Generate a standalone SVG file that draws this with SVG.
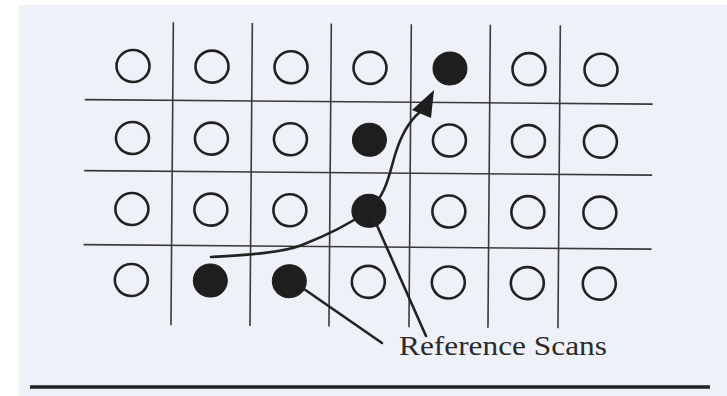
<svg xmlns="http://www.w3.org/2000/svg" width="727" height="396" viewBox="0 0 727 396">
<style>
.grid{stroke:#3a3a3a;stroke-width:1.6;fill:none}
.o{fill:none;stroke:#222;stroke-width:2.6}
.f{fill:#1e1e1e;stroke:#1e1e1e;stroke-width:1}
.c{fill:none;stroke:#222;stroke-width:2.6;stroke-linecap:round}
.ah{fill:#1e1e1e}
.lbl{font-family:"Liberation Serif","Times New Roman",serif;font-size:28px;fill:#2a2a2a}
</style>
<rect width="727" height="396" fill="#ffffff"/>
<rect x="19" y="5" width="708" height="391" fill="#eff1f8"/>
<g transform="rotate(0.45 133 66)">
<g id="grid" class="grid">
<line x1="85" y1="100" x2="653" y2="100"/>
<line x1="85" y1="171" x2="653" y2="171"/>
<line x1="85" y1="245" x2="653" y2="245"/>
<line x1="173" y1="22" x2="173" y2="325"/>
<line x1="252" y1="22" x2="252" y2="325"/>
<line x1="331" y1="22" x2="331" y2="325"/>
<line x1="411" y1="22" x2="411" y2="325"/>
<line x1="490" y1="22" x2="490" y2="325"/>
<line x1="560" y1="22" x2="560" y2="325"/>
</g>
<g id="r1c1"><ellipse class="o" cx="133" cy="66" rx="16.5" ry="16"/></g>
<g id="r1c2"><ellipse class="o" cx="212" cy="66" rx="16.5" ry="16"/></g>
<g id="r1c3"><ellipse class="o" cx="291" cy="66" rx="16.5" ry="16"/></g>
<g id="r1c4"><ellipse class="o" cx="370" cy="66" rx="16.5" ry="16"/></g>
<g id="r1c5"><ellipse class="f" cx="450" cy="66" rx="17" ry="16.5"/></g>
<g id="r1c6"><ellipse class="o" cx="529" cy="66" rx="16.5" ry="16"/></g>
<g id="r1c7"><ellipse class="o" cx="601" cy="66" rx="16.5" ry="16"/></g>
<g id="r2c1"><ellipse class="o" cx="133" cy="138" rx="16.5" ry="16"/></g>
<g id="r2c2"><ellipse class="o" cx="212" cy="138" rx="16.5" ry="16"/></g>
<g id="r2c3"><ellipse class="o" cx="291" cy="138" rx="16.5" ry="16"/></g>
<g id="r2c4"><ellipse class="f" cx="370" cy="138" rx="17" ry="16.5"/></g>
<g id="r2c5"><ellipse class="o" cx="450" cy="138" rx="16.5" ry="16"/></g>
<g id="r2c6"><ellipse class="o" cx="529" cy="138" rx="16.5" ry="16"/></g>
<g id="r2c7"><ellipse class="o" cx="601" cy="138" rx="16.5" ry="16"/></g>
<g id="r3c1"><ellipse class="o" cx="133" cy="209" rx="16.5" ry="16"/></g>
<g id="r3c2"><ellipse class="o" cx="212" cy="209" rx="16.5" ry="16"/></g>
<g id="r3c3"><ellipse class="o" cx="291" cy="209" rx="16.5" ry="16"/></g>
<g id="r3c4"><ellipse class="f" cx="370" cy="209" rx="17" ry="16.5"/></g>
<g id="r3c5"><ellipse class="o" cx="450" cy="209" rx="16.5" ry="16"/></g>
<g id="r3c6"><ellipse class="o" cx="529" cy="209" rx="16.5" ry="16"/></g>
<g id="r3c7"><ellipse class="o" cx="601" cy="209" rx="16.5" ry="16"/></g>
<g id="r4c1"><ellipse class="o" cx="133" cy="280" rx="16.5" ry="16"/></g>
<g id="r4c2"><ellipse class="f" cx="212" cy="280" rx="17" ry="16.5"/></g>
<g id="r4c3"><ellipse class="f" cx="291" cy="280" rx="17" ry="16.5"/></g>
<g id="r4c4"><ellipse class="o" cx="370" cy="280" rx="16.5" ry="16"/></g>
<g id="r4c5"><ellipse class="o" cx="450" cy="280" rx="16.5" ry="16"/></g>
<g id="r4c6"><ellipse class="o" cx="529" cy="280" rx="16.5" ry="16"/></g>
<g id="r4c7"><ellipse class="o" cx="601" cy="280" rx="16.5" ry="16"/></g>
</g>
<g id="connectors">
<path class="c" d="M211,257 C245,255 282,253 302,245 C325,236 348,225 368,211 C386,196 389,175 395,155 C401,135 408,122 420,112"/>
<polygon class="ah" points="434,90 412,110 431,118"/>
<line class="c" x1="371" y1="212" x2="426" y2="336"/>
<line class="c" x1="291" y1="280" x2="382" y2="343"/>
</g>
<g id="label">
<text class="lbl" x="399" y="355" textLength="208" lengthAdjust="spacingAndGlyphs">Reference Scans</text>
</g>
<line x1="30" y1="387" x2="710" y2="387" stroke="#222" stroke-width="3.5"/>
</svg>
